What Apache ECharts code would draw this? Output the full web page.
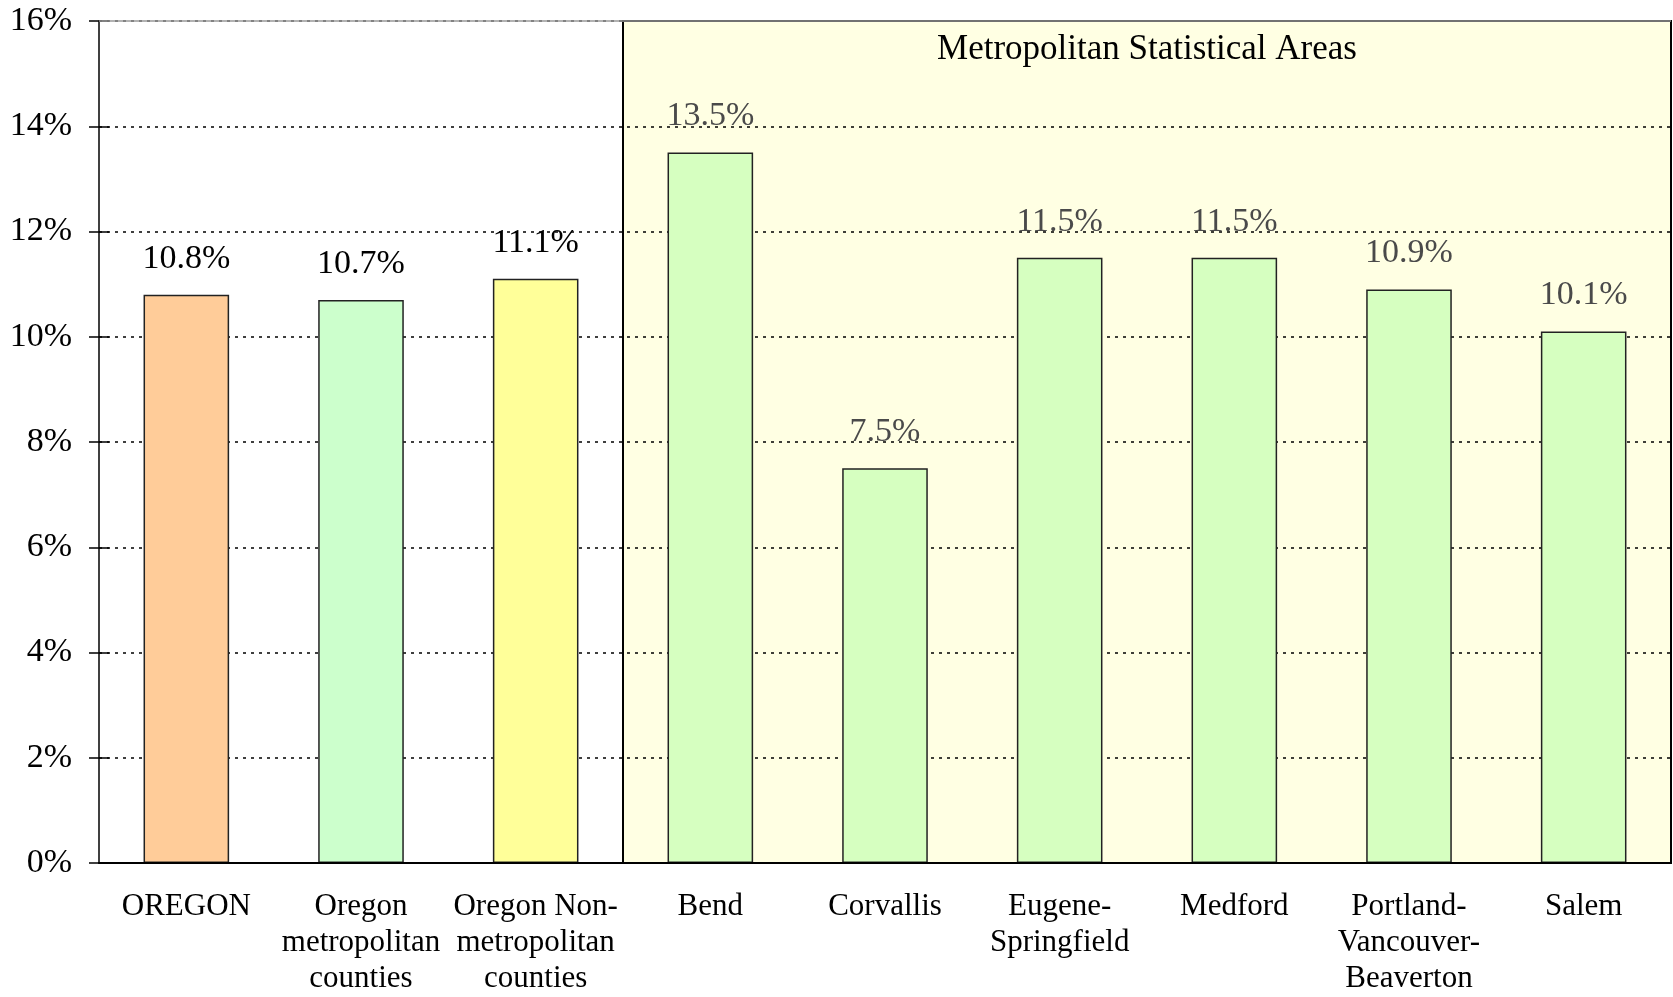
<!DOCTYPE html>
<html style="height: 100%">
<head>
<meta charset="utf-8">
<script src="https://cdn.jsdelivr.net/npm/echarts@6/dist/echarts.min.js"></script>
</head>
<body style="height: 100%; margin: 0; background: #fff">
<div id="container" style="width: 1673px; height: 997px"></div>
<script type="text/javascript">
// data
var categories = ['OREGON', 'Oregon\nmetropolitan\ncounties', 'Oregon Non-\nmetropolitan\ncounties',
    'Bend', 'Corvallis', 'Eugene-\nSpringfield', 'Medford', 'Portland-\nVancouver-\nBeaverton', 'Salem'];
var values = [10.8, 10.7, 11.1, 13.5, 7.5, 11.5, 11.5, 10.9, 10.1];
var barColors = ['#FFCC99', '#CCFFCC', '#FFFF99', '#D6FFC0', '#D6FFC0', '#D6FFC0', '#D6FFC0', '#D6FFC0', '#D6FFC0'];
var labelColors = ['#000', '#000', '#000', '#4a4a4a', '#4a4a4a', '#4a4a4a', '#4a4a4a', '#4a4a4a', '#4a4a4a'];
var msaTitle = 'Metropolitan Statistical Areas';
var msaFrom = 3, msaTo = 9; // category slots covered by the MSA box

var font = 'Liberation Serif';
var dom = document.getElementById('container');
var myChart = echarts.init(dom);

var barData = values.map(function (v, i) {
    return {
        value: v,
        itemStyle: { color: barColors[i] },
        label: { color: labelColors[i] }
    };
});

var option = {
    animation: false,
    grid: { left: 99, right: 2, top: 21, bottom: 130 },
    xAxis: [
        {
            type: 'category',
            data: categories,
            axisLine: { lineStyle: { color: '#000', width: 2 } },
            axisTick: { length: 8, lineStyle: { color: '#000', width: 1.5 } },
            axisLabel: {
                color: '#000', fontFamily: font, fontSize: 31, lineHeight: 36,
                margin: 26, interval: 0
            },
            z: 5
        },
        {
            type: 'category',
            data: categories,
            position: 'bottom',
            axisLine: { show: false },
            axisTick: { inside: true, length: 8, lineStyle: { color: '#000', width: 1.5 } },
            axisLabel: { show: false },
            z: 5
        },
        {
            type: 'value', min: 0, max: categories.length, show: false
        }
    ],
    yAxis: [
        {
            type: 'value', min: 0, max: 16, interval: 2,
            axisLine: { show: true, lineStyle: { color: '#000', width: 1.5 } },
            axisTick: { show: true, length: 10, lineStyle: { color: '#000', width: 1.5 } },
            axisLabel: {
                formatter: '{value}%', color: '#000', fontFamily: font, fontSize: 34, margin: 27
            },
            splitLine: { lineStyle: { color: '#000', type: [3, 5], width: 1.5 } }
        },
        {
            type: 'value', min: 0, max: 16, interval: 2, position: 'left',
            axisLine: { show: false },
            axisTick: { show: true, inside: true, length: 10, lineStyle: { color: '#000', width: 1.5 } },
            axisLabel: { show: false },
            splitLine: { show: false }
        }
    ],
    series: [
        {
            type: 'bar',
            xAxisIndex: 0,
            yAxisIndex: 0,
            data: barData,
            barWidth: '49%',
            itemStyle: { borderColor: '#222', borderWidth: 1.5 },
            label: {
                show: true,
                position: 'top',
                distance: 19,
                fontFamily: font,
                fontSize: 34,
                formatter: function (p) { return p.value.toFixed(1) + '%'; }
            },
            z: 3
        },
        {
            type: 'line',
            xAxisIndex: 2,
            yAxisIndex: 0,
            data: [],
            silent: true,
            markLine: {
                silent: true,
                symbol: 'none',
                label: { show: false },
                lineStyle: { color: '#999', type: 'solid', width: 1.5 },
                data: [{ yAxis: 16 }]
            },
            markArea: {
                silent: true,
                z: -1,
                itemStyle: { color: '#FFFFE3', borderColor: '#000', borderWidth: 2 },
                label: {
                    show: true,
                    position: 'insideTop',
                    distance: 12,
                    color: '#000',
                    fontFamily: font,
                    fontSize: 35
                },
                data: [[
                    { name: msaTitle, coord: [msaFrom, 0] },
                    { coord: [msaTo, 16.07] }
                ]]
            }
        }
    ]
};

myChart.setOption(option);
window.onresize = myChart.resize;
</script>
</body>
</html>
